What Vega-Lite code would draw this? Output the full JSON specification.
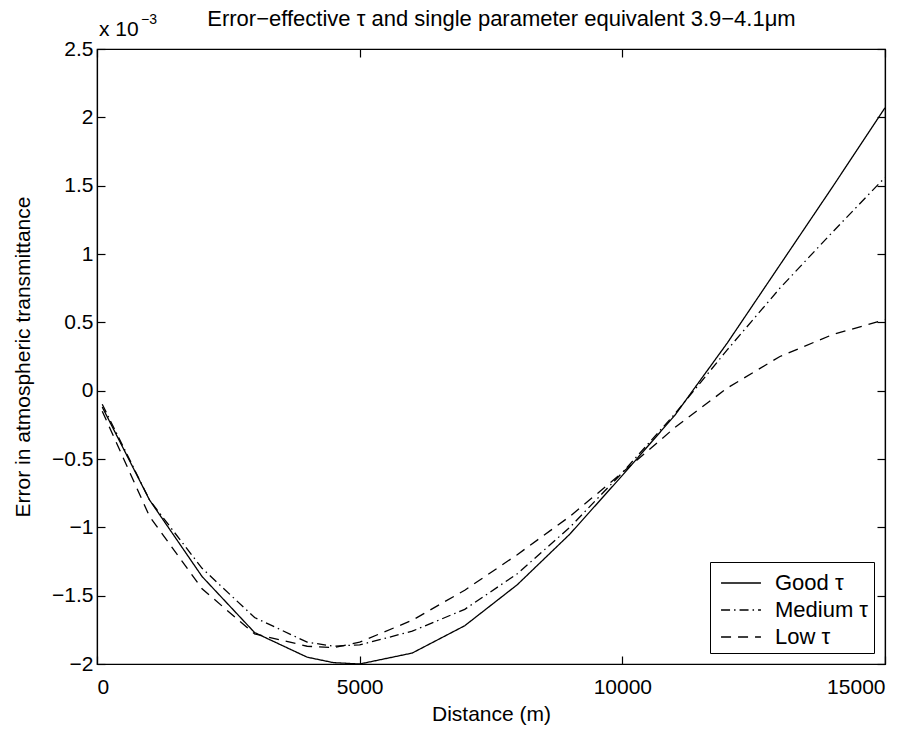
{
  "$schema": "https://vega.github.io/schema/vega-lite/v6.json",
  "width": 788,
  "height": 615,
  "autosize": {"type": "none"},
  "padding": {"left": 97, "top": 49, "right": 39, "bottom": 67},
  "background": "white",
  "config": {
    "font": "Liberation Sans",
    "view": {"stroke": "black", "strokeWidth": 1.2},
    "axis": {"grid": false, "domainColor": "black", "tickColor": "black", "labelColor": "black", "titleColor": "black", "labelFont": "Liberation Sans", "titleFont": "Liberation Sans", "labelFontSize": 21, "titleFontSize": 21, "titleFontWeight": "normal", "tickSize": -8, "domainWidth": 1.2, "tickWidth": 1.2}
  },
  "data": {"values": [
    {"d": 100, "e": -0.12, "s": "Good τ"},
    {"d": 1000, "e": -0.8, "s": "Good τ"},
    {"d": 2000, "e": -1.36, "s": "Good τ"},
    {"d": 3000, "e": -1.77, "s": "Good τ"},
    {"d": 4000, "e": -1.95, "s": "Good τ"},
    {"d": 4500, "e": -1.99, "s": "Good τ"},
    {"d": 5000, "e": -2.0, "s": "Good τ"},
    {"d": 6000, "e": -1.92, "s": "Good τ"},
    {"d": 7000, "e": -1.72, "s": "Good τ"},
    {"d": 8000, "e": -1.42, "s": "Good τ"},
    {"d": 9000, "e": -1.05, "s": "Good τ"},
    {"d": 10000, "e": -0.62, "s": "Good τ"},
    {"d": 11000, "e": -0.18, "s": "Good τ"},
    {"d": 12000, "e": 0.35, "s": "Good τ"},
    {"d": 13000, "e": 0.92, "s": "Good τ"},
    {"d": 14000, "e": 1.49, "s": "Good τ"},
    {"d": 15000, "e": 2.07, "s": "Good τ"},
    {"d": 100, "e": -0.1, "s": "Medium τ"},
    {"d": 1000, "e": -0.8, "s": "Medium τ"},
    {"d": 2000, "e": -1.3, "s": "Medium τ"},
    {"d": 3000, "e": -1.66, "s": "Medium τ"},
    {"d": 4000, "e": -1.84, "s": "Medium τ"},
    {"d": 4500, "e": -1.87, "s": "Medium τ"},
    {"d": 5000, "e": -1.86, "s": "Medium τ"},
    {"d": 6000, "e": -1.76, "s": "Medium τ"},
    {"d": 7000, "e": -1.6, "s": "Medium τ"},
    {"d": 8000, "e": -1.34, "s": "Medium τ"},
    {"d": 9000, "e": -1.0, "s": "Medium τ"},
    {"d": 10000, "e": -0.6, "s": "Medium τ"},
    {"d": 11000, "e": -0.17, "s": "Medium τ"},
    {"d": 12000, "e": 0.3, "s": "Medium τ"},
    {"d": 13000, "e": 0.75, "s": "Medium τ"},
    {"d": 14000, "e": 1.16, "s": "Medium τ"},
    {"d": 15000, "e": 1.56, "s": "Medium τ"},
    {"d": 100, "e": -0.15, "s": "Low τ"},
    {"d": 1000, "e": -0.92, "s": "Low τ"},
    {"d": 2000, "e": -1.45, "s": "Low τ"},
    {"d": 3000, "e": -1.78, "s": "Low τ"},
    {"d": 4000, "e": -1.87, "s": "Low τ"},
    {"d": 4500, "e": -1.88, "s": "Low τ"},
    {"d": 5000, "e": -1.84, "s": "Low τ"},
    {"d": 6000, "e": -1.68, "s": "Low τ"},
    {"d": 7000, "e": -1.46, "s": "Low τ"},
    {"d": 8000, "e": -1.2, "s": "Low τ"},
    {"d": 9000, "e": -0.92, "s": "Low τ"},
    {"d": 10000, "e": -0.6, "s": "Low τ"},
    {"d": 11000, "e": -0.27, "s": "Low τ"},
    {"d": 12000, "e": 0.02, "s": "Low τ"},
    {"d": 13000, "e": 0.25, "s": "Low τ"},
    {"d": 14000, "e": 0.41, "s": "Low τ"},
    {"d": 15000, "e": 0.52, "s": "Low τ"}
  ]},
  "layer": [
    {
      "mark": {"type": "line", "color": "black", "strokeWidth": 1.3, "clip": true},
      "encoding": {
        "x": {"field": "d", "type": "quantitative", "scale": {"domain": [0, 15000], "nice": false, "zero": false}, "axis": {"values": [0, 5000, 10000, 15000], "format": "d", "title": "Distance (m)", "labelPadding": 20, "titlePadding": 6}},
        "y": {"field": "e", "type": "quantitative", "scale": {"domain": [-2, 2.5], "nice": false, "zero": false}, "axis": {"values": [-2, -1.5, -1, -0.5, 0, 0.5, 1, 1.5, 2, 2.5], "format": "~g", "title": "Error in atmospheric transmittance", "labelPadding": 12, "titlePadding": 18}},
        "strokeDash": {"field": "s", "type": "nominal", "scale": {"domain": ["Good τ", "Medium τ", "Low τ"], "range": [[1, 0], [9, 4, 1.5, 4], [10, 7]]},
          "legend": {"title": null, "orient": "bottom-right", "offset": 11, "strokeColor": "black", "fillColor": "white", "padding": 5, "labelFontSize": 22, "labelFont": "Liberation Sans", "labelColor": "black", "symbolType": "M-1.33,0H1.33", "symbolSize": 900, "symbolOffset": 10, "symbolStrokeColor": "black", "symbolStrokeWidth": 1.3, "rowPadding": 0, "labelOffset": 18}}
      }
    },
    {
      "mark": {"type": "line", "opacity": 0},
      "encoding": {
        "x": {"field": "d", "type": "quantitative", "axis": {"orient": "top", "values": [0, 5000, 10000, 15000], "labels": false, "title": "Error−effective τ and single parameter equivalent 3.9−4.1μm", "titleFontSize": 22, "titleX": 404, "titleY": -24, "titleBaseline": "alphabetic", "titleAlign": "center"}},
        "y": {"field": "e", "type": "quantitative", "axis": {"orient": "right", "values": [-2, -1.5, -1, -0.5, 0, 0.5, 1, 1.5, 2, 2.5], "labels": false, "title": null}}
      }
    },
    {
      "data": {"values": [{"d": 0, "e": 2.5, "t": "x 10"}]},
      "mark": {"type": "text", "align": "left", "baseline": "alphabetic", "fontSize": 21, "dx": 2, "dy": -13, "color": "black"},
      "encoding": {"x": {"field": "d", "type": "quantitative", "axis": null}, "y": {"field": "e", "type": "quantitative", "axis": null}, "text": {"field": "t"}}
    },
    {
      "data": {"values": [{"d": 0, "e": 2.5, "t": "−3"}]},
      "mark": {"type": "text", "align": "left", "baseline": "alphabetic", "fontSize": 14, "dx": 44, "dy": -25, "color": "black"},
      "encoding": {"x": {"field": "d", "type": "quantitative", "axis": null}, "y": {"field": "e", "type": "quantitative", "axis": null}, "text": {"field": "t"}}
    }
  ],
  "resolve": {"axis": {"x": "independent", "y": "independent"}}
}
